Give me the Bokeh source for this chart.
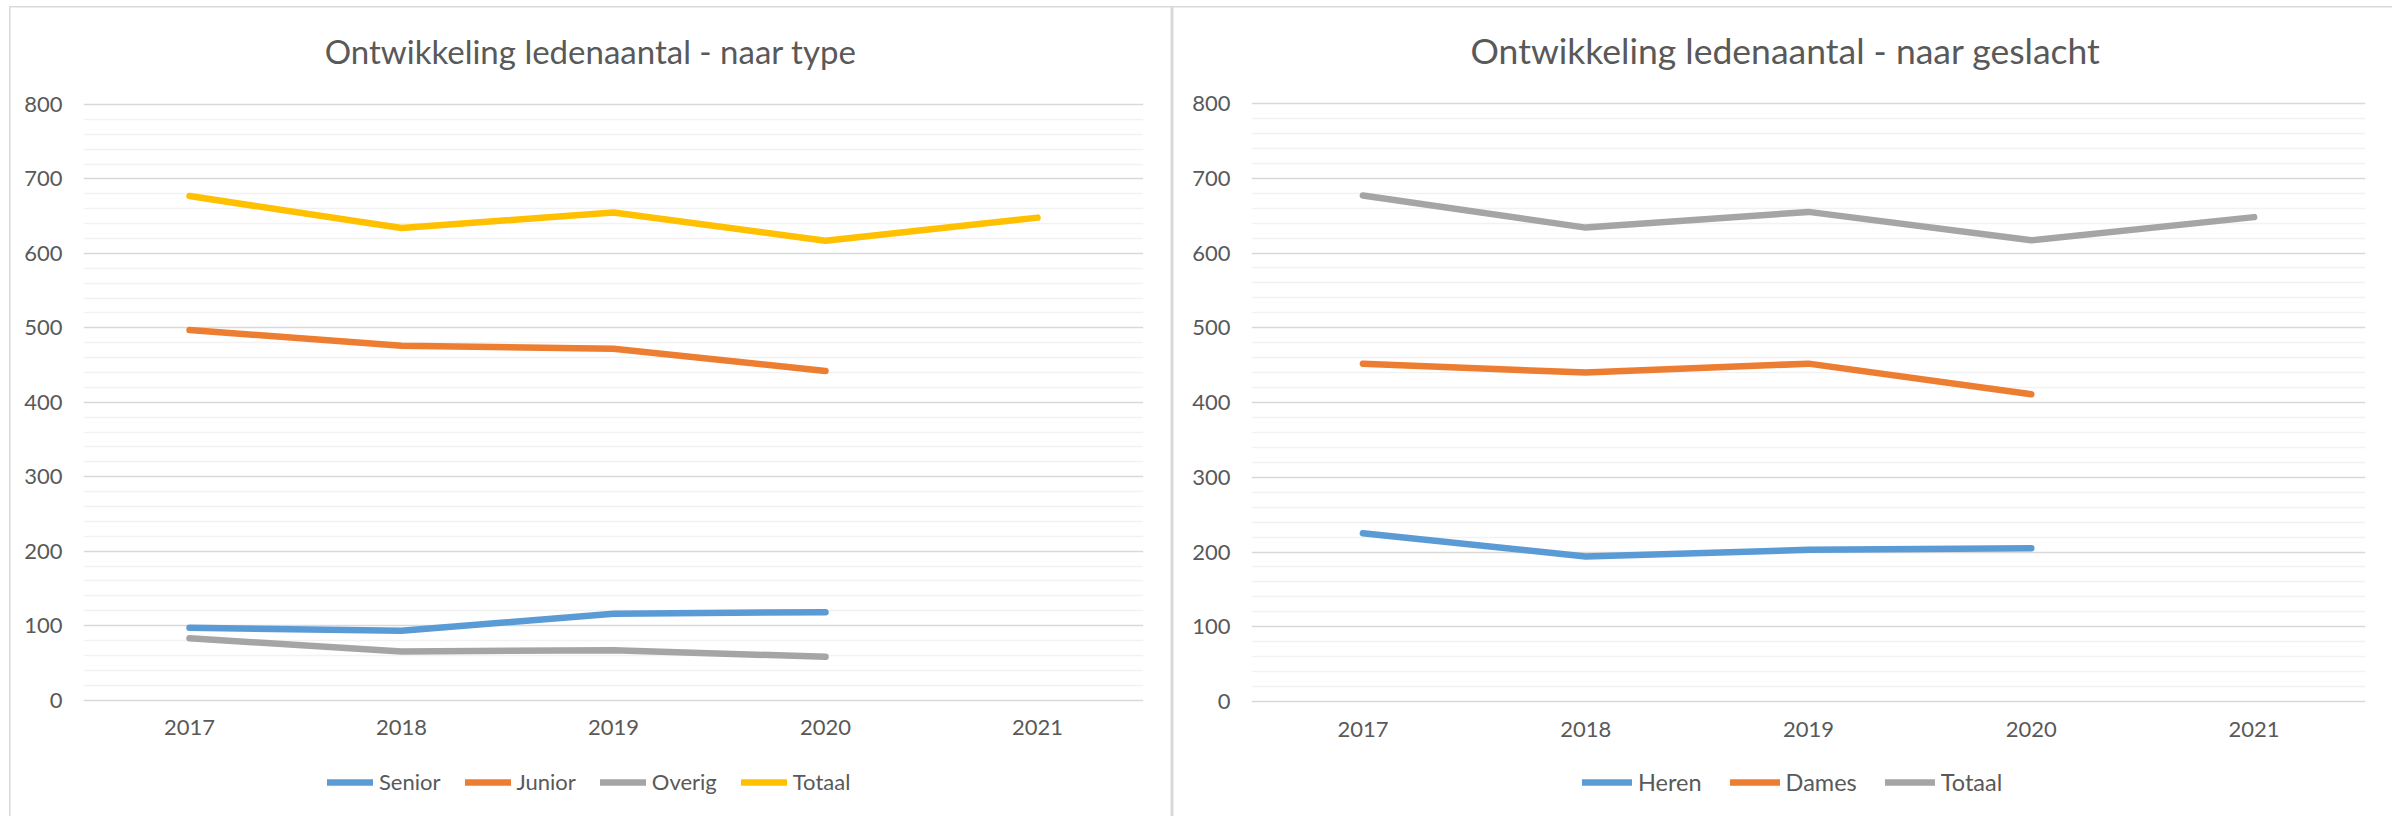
from bokeh.plotting import figure
from bokeh.layouts import row
from bokeh.models import (Range1d, FactorRange, FixedTicker, Legend, LegendItem, Label)
from bokeh.embed import file_html
from bokeh.resources import INLINE

years = ["2017", "2018", "2019", "2020", "2021"]
senior = [97, 93, 116, 118]
junior = [497, 476, 472, 442]
overig = [83, 65, 67, 58]
totaal = [677, 634, 655, 617, 648]
heren = [225, 194, 203, 205]
dames = [452, 440, 452, 411]
y_ticks = [0, 100, 200, 300, 400, 500, 600, 700, 800]
y_minor = [v for v in range(20, 800, 20) if v % 100]

BLUE = "#5B9BD5"
ORANGE = "#ED7D31"
GRAY = "#A5A5A5"
YELLOW = "#FFC000"
TXT = "#595959"
FONT = "Lato"


def make_fig(width, b_left, b_right, y_lo, y_hi, title, title_x, title_y, title_fs,
             series, leg_x, leg_y, leg_fs, glyph_w, spacing, box):
    p = figure(width=width, height=816, x_range=FactorRange(factors=years, range_padding=0),
               y_range=Range1d(y_lo, y_hi), output_backend="svg", toolbar_location=None,
               min_border_left=b_left, min_border_right=b_right,
               min_border_top=0, min_border_bottom=0, title=None)
    p.outline_line_color = None
    p.background_fill_color = None
    p.border_fill_color = None
    p.styles = {"box-shadow": box}
    p.xgrid.grid_line_color = None
    p.yaxis.ticker = FixedTicker(ticks=y_ticks, minor_ticks=y_minor)
    p.ygrid.grid_line_color = "#D9D9D9"
    p.ygrid.grid_line_width = 1.3
    p.ygrid.minor_grid_line_color = "#F2F2F2"
    p.ygrid.minor_grid_line_width = 1.3
    p.xaxis.fixed_location = 0
    for ax in (p.xaxis[0], p.yaxis[0]):
        ax.axis_line_color = None
        ax.major_tick_line_color = None
        ax.minor_tick_line_color = None
        ax.major_tick_out = 0
        ax.major_tick_in = 0
        ax.minor_tick_out = 0
        ax.minor_tick_in = 0
        ax.major_label_text_font = FONT
        ax.major_label_text_font_size = "22px"
        ax.major_label_text_color = TXT
    p.xaxis.major_label_standoff = 20
    p.yaxis.major_label_standoff = 21

    items = []
    for name, vals, col in series:
        r = p.line(x=years[:len(vals)], y=vals, line_color=col, line_width=6.5,
                   line_cap="round", line_join="round")
        items.append(LegendItem(label=name, renderers=[r]))
    leg = Legend(items=items, orientation="horizontal", location=(leg_x, leg_y),
                 padding=0, margin=0, spacing=spacing, glyph_width=glyph_w, glyph_height=22,
                 label_height=22, label_standoff=6, border_line_color=None,
                 background_fill_alpha=0, label_text_font=FONT,
                 label_text_font_size=leg_fs, label_text_color=TXT)
    p.add_layout(leg, "center")
    p.add_layout(Label(x=title_x, y=title_y, text=title, text_align="center",
                       text_baseline="middle", text_font=FONT,
                       text_font_size=title_fs, text_color=TXT))
    return p


BOX_L = ("inset 9px 0 0 0 white, inset 0 6px 0 0 white, "
         "inset 10.5px 0 0 0 #d9d9d9, inset 0 7.5px 0 0 #d9d9d9, inset -1.5px 0 0 0 #d9d9d9")
BOX_R = ("inset 0 6px 0 0 white, inset 1.5px 0 0 0 #d9d9d9, inset 0 7.5px 0 0 #d9d9d9")

p1 = make_fig(1172, 83, 29, -156.5, 939.7, "Ontwikkeling ledenaantal - naar type", 2.392, 872.5,
              "33px",
              [("Senior", senior, BLUE), ("Junior", junior, ORANGE),
               ("Overig", overig, GRAY), ("Totaal", totaal, YELLOW)],
              244, 21, "22px", 46, 24, BOX_L)
p2 = make_fig(1220, 79, 27, -153.8, 937.8, "Ontwikkeling ledenaantal - naar geslacht", 2.397, 870.9,
              "35.5px",
              [("Heren", heren, BLUE), ("Dames", dames, ORANGE),
               ("Totaal", totaal, GRAY)],
              331, 20, "23.5px", 50, 28, BOX_R)

layout = row(p1, p2)
open("out.html", "w").write(file_html(layout, INLINE))
